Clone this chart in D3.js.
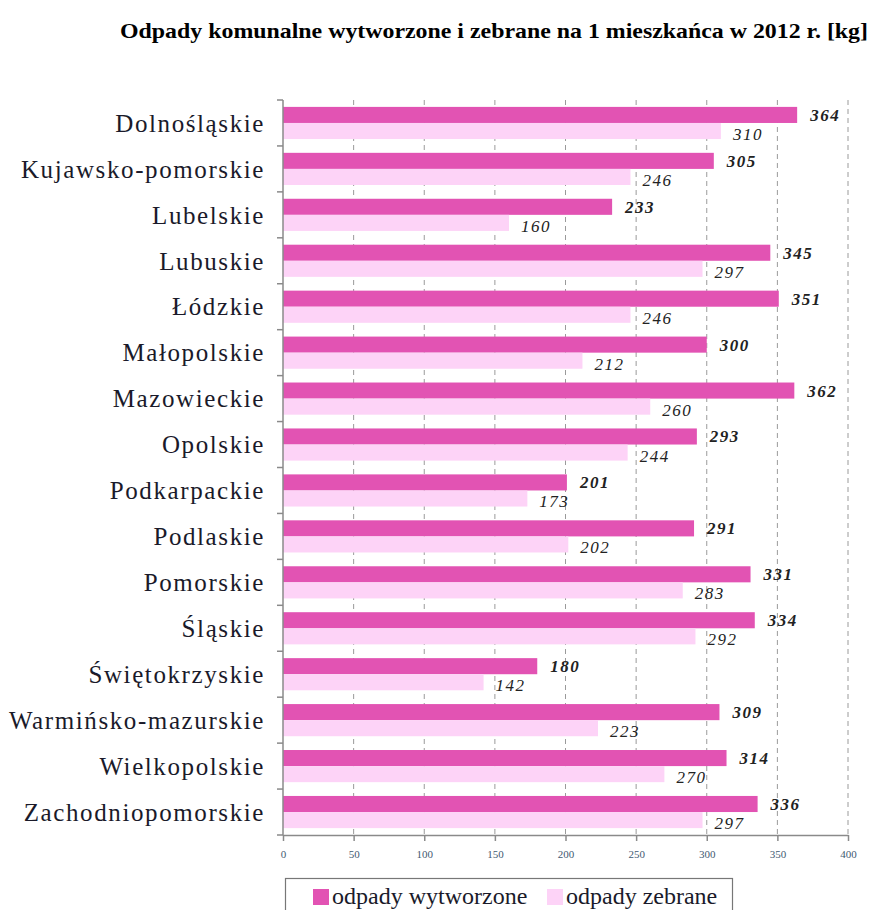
<!DOCTYPE html>
<meta charset="utf-8">
<body style="margin:0;background:#fff">
</body>
<script src="https://d3js.org/d3.v7.min.js"></script>
<script>

// data
var regions = ["Dolnośląskie", "Kujawsko-pomorskie", "Lubelskie", "Lubuskie", "Łódzkie",
  "Małopolskie", "Mazowieckie", "Opolskie", "Podkarpackie", "Podlaskie", "Pomorskie",
  "Śląskie", "Świętokrzyskie", "Warmińsko-mazurskie", "Wielkopolskie", "Zachodniopomorskie"];
var wytworzone = [364, 305, 233, 345, 351, 300, 362, 293, 201, 291, 331, 334, 180, 309, 314, 336];
var zebrane = [310, 246, 160, 297, 246, 212, 260, 244, 173, 202, 283, 292, 142, 223, 270, 297];
var seriesNames = ["odpady wytworzone", "odpady zebrane"];
var xTicks = [0, 50, 100, 150, 200, 250, 300, 350, 400];

var colors = ["#e253b3", "#fdd3f7"];
var serif = "'Liberation Serif', 'Times New Roman', serif";

var W = 879, H = 910;
var margin = {top: 100, right: 31, bottom: 75, left: 283};

var svg = d3.select("body").append("svg")
  .attr("width", W)
  .attr("height", H)
  .style("font-family", serif);

var x = d3.scaleLinear()
  .domain([0, 400])
  .range([margin.left, W - margin.right]);

var y = d3.scaleBand()
  .domain(regions)
  .range([margin.top, H - margin.bottom])
  .paddingInner(0.3)
  .paddingOuter(0.15);

var ySub = d3.scaleBand()
  .domain([0, 1])
  .range([0, y.bandwidth()]);

var yTop = margin.top, yBot = H - margin.bottom;

// title
svg.append("text")
  .attr("x", 494)
  .attr("y", 38)
  .attr("text-anchor", "middle")
  .attr("font-size", 21)
  .attr("font-weight", "bold")
  .attr("textLength", 748)
  .attr("lengthAdjust", "spacingAndGlyphs")
  .text("Odpady komunalne wytworzone i zebrane na 1 mieszkańca w 2012 r. [kg]");

// dashed grid
svg.append("g")
  .selectAll("line")
  .data(xTicks.filter(function(d){ return d > 0; }))
  .enter()
  .append("line")
  .attr("x1", function(d){ return x(d); })
  .attr("x2", function(d){ return x(d); })
  .attr("y1", yTop)
  .attr("y2", yBot)
  .attr("stroke", "#9a9a9a")
  .attr("stroke-width", 1)
  .attr("stroke-dasharray", "5,4");

// bars
var groups = svg.append("g")
  .selectAll("g")
  .data(regions)
  .enter()
  .append("g")
  .attr("transform", function(d){ return "translate(0," + y(d) + ")"; });

var vals = [wytworzone, zebrane];

groups.selectAll("rect")
  .data(function(d, i){ return [0, 1].map(function(s){ return {s: s, v: vals[s][i]}; }); })
  .enter()
  .append("rect")
  .attr("x", x(0))
  .attr("y", function(d){ return ySub(d.s); })
  .attr("width", function(d){ return x(d.v) - x(0); })
  .attr("height", ySub.bandwidth())
  .attr("fill", function(d){ return colors[d.s]; });

groups.selectAll("text")
  .data(function(d, i){ return [0, 1].map(function(s){ return {s: s, v: vals[s][i]}; }); })
  .enter()
  .append("text")
  .attr("x", function(d){ return x(d.v) + (d.s == 0 ? 13 : 12); })
  .attr("y", function(d){ return ySub(d.s) + ySub.bandwidth() / 2 + (d.s == 0 ? 0 : 3); })
  .attr("dy", "0.35em")
  .attr("font-size", 17)
  .attr("letter-spacing", 1.5)
  .attr("font-style", "italic")
  .attr("font-weight", function(d){ return d.s == 0 ? "bold" : "normal"; })
  .attr("fill", "#222")
  .text(function(d){ return d.v; });

// left axis
var axisColor = "#8a8a8a";
svg.append("line")
  .attr("x1", x(0)).attr("x2", x(0))
  .attr("y1", yTop).attr("y2", yBot)
  .attr("stroke", axisColor).attr("stroke-width", 1.5);

svg.append("g")
  .selectAll("line")
  .data(d3.range(regions.length + 1))
  .enter()
  .append("line")
  .attr("x1", x(0) - 6).attr("x2", x(0))
  .attr("y1", function(i){ return yTop + i * y.step(); })
  .attr("y2", function(i){ return yTop + i * y.step(); })
  .attr("stroke", axisColor).attr("stroke-width", 1.5);

svg.append("g")
  .selectAll("text")
  .data(regions)
  .enter()
  .append("text")
  .attr("x", 265)
  .attr("y", function(d){ return y(d) + y.bandwidth() / 2; })
  .attr("dy", "0.35em")
  .attr("text-anchor", "end")
  .attr("font-size", 25)
  .attr("letter-spacing", 1.6)
  .attr("fill", "#1a1a2a")
  .text(function(d){ return d; });

// bottom axis
var xAxis = svg.append("g")
  .attr("transform", "translate(0," + yBot + ")")
  .call(d3.axisBottom(x).tickValues(xTicks).tickSize(6).tickSizeOuter(0));
xAxis.select(".domain").attr("stroke", axisColor).attr("stroke-width", 1.5);
xAxis.selectAll(".tick line").attr("stroke", axisColor).attr("stroke-width", 1.5);
xAxis.selectAll("text")
  .attr("font-family", serif)
  .attr("font-size", 11)
  .attr("fill", "#3f5a72")
  .attr("dy", "1.3em");

// legend
svg.append("rect")
  .attr("x", 285.5).attr("y", 878.5)
  .attr("width", 447).attr("height", 40)
  .attr("fill", "none")
  .attr("stroke", "#777").attr("stroke-width", 1.2);

var legendX = [313, 547];
var leg = svg.append("g")
  .selectAll("g")
  .data(seriesNames)
  .enter()
  .append("g")
  .attr("transform", function(d, i){ return "translate(" + legendX[i] + ",0)"; });

leg.append("rect")
  .attr("x", 0).attr("y", 889)
  .attr("width", 16).attr("height", 16)
  .attr("fill", function(d, i){ return colors[i]; });

leg.append("text")
  .attr("x", 19).attr("y", 904)
  .attr("font-size", 24)
  .attr("fill", "#1a1a2a")
  .text(function(d){ return d; });

</script>
